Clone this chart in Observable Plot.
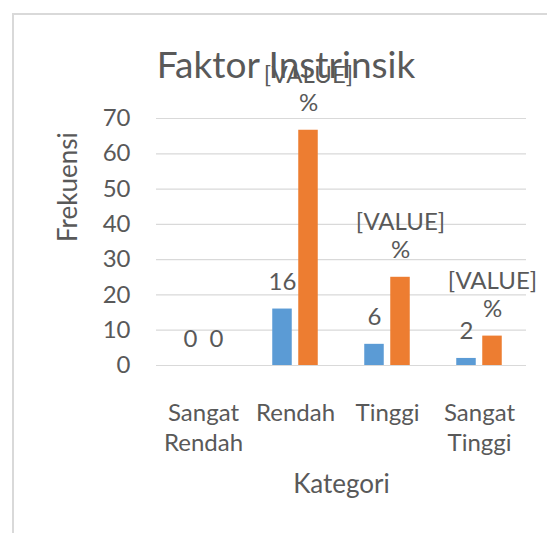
<!DOCTYPE html>
<html><head><meta charset="utf-8">
<script src="https://cdn.jsdelivr.net/npm/d3@7"></script>
<script src="https://cdn.jsdelivr.net/npm/@observablehq/plot@0.6"></script>
<style>
html,body{margin:0;padding:0;background:#fff;}
#wrap{position:relative;width:547px;height:533px;overflow:hidden;}
#frame{position:absolute;left:12px;top:13px;width:700px;height:700px;border-left:2px solid #d9d9d9;border-top:2px solid #d9d9d9;}
#chart{position:absolute;left:0;top:0;}
</style></head><body>
<div id="wrap"><div id="frame"></div><div id="chart"></div></div>
<script>
const categories = ["Sangat Rendah", "Rendah", "Tinggi", "Sangat Tinggi"];
const categoryTickLabels = ["Sangat\nRendah", "Rendah", "Tinggi", "Sangat\nTinggi"];
const frekuensi = [0, 16, 6, 2];
const persen = [0, 66.67, 25, 8.33];
const frekuensiLabels = ["0", "16", "6", "2"];
const persenLabels = ["0", "[VALUE]\n%", "[VALUE]\n%", "[VALUE]\n%"];
const yTicks = [0, 10, 20, 30, 40, 50, 60, 70];
const chartTitle = "Faktor Instrinsik";
const yTitle = "Frekuensi";
const xTitle = "Kategori";

const rows = categories.map((c, i) => ({
  kategori: c,
  frekuensi: frekuensi[i],
  persen: persen[i],
  fLabel: frekuensiLabels[i],
  pLabel: persenLabels[i]
}));

const FONT = "Lato, 'Open Sans', sans-serif";
const TXT = "#595959";
const BAR_INSET = 36.25;

const chart = Plot.plot({
  width: 547,
  height: 533,
  marginLeft: 156,
  marginRight: 21,
  marginTop: 118,
  marginBottom: 168,
  style: {fontFamily: FONT, background: "transparent", overflow: "visible"},
  x: {domain: categories, padding: 0},
  y: {domain: [0, 70]},
  marks: [
    Plot.gridY(yTicks, {stroke: "#d9d9d9", strokeOpacity: 1, strokeWidth: 1.2}),
    Plot.axisY(yTicks, {tickSize: 0, tickPadding: 26, fontSize: 24, color: TXT, label: null}),
    Plot.axisX({tickSize: 0, tickPadding: 34, fontSize: 24, color: TXT, lineHeight: 1.25, label: null,
      tickFormat: d => categoryTickLabels[categories.indexOf(d)]}),
    Plot.barY(rows, {x: "kategori", y: "frekuensi", fill: "#5B9BD5", insetLeft: BAR_INSET, insetRight: BAR_INSET, dx: -13}),
    Plot.barY(rows, {x: "kategori", y: "persen", fill: "#ED7D31", insetLeft: BAR_INSET, insetRight: BAR_INSET, dx: 13}),
    Plot.text(rows, {x: "kategori", y: "frekuensi", text: "fLabel", dx: -13, dy: -19, lineAnchor: "bottom", fontSize: 24, fill: TXT}),
    Plot.text(rows, {x: "kategori", y: "persen", text: "pLabel", dx: 13, dy: -19, lineAnchor: "bottom", fontSize: 24, lineHeight: 1.17, fill: TXT}),
    Plot.text([yTitle], {text: d => d, frameAnchor: "left", rotate: -90, dx: -88, fontSize: 26, fill: TXT}),
    Plot.text([xTitle], {text: d => d, frameAnchor: "bottom", dy: 127, fontSize: 26, fill: TXT}),
    Plot.text([chartTitle], {text: d => d, frameAnchor: "top", dx: -55.5, dy: -40.5, lineAnchor: "bottom", fontSize: 37, fill: TXT})
  ]
});
document.getElementById("chart").appendChild(chart);
</script>
</body></html>
